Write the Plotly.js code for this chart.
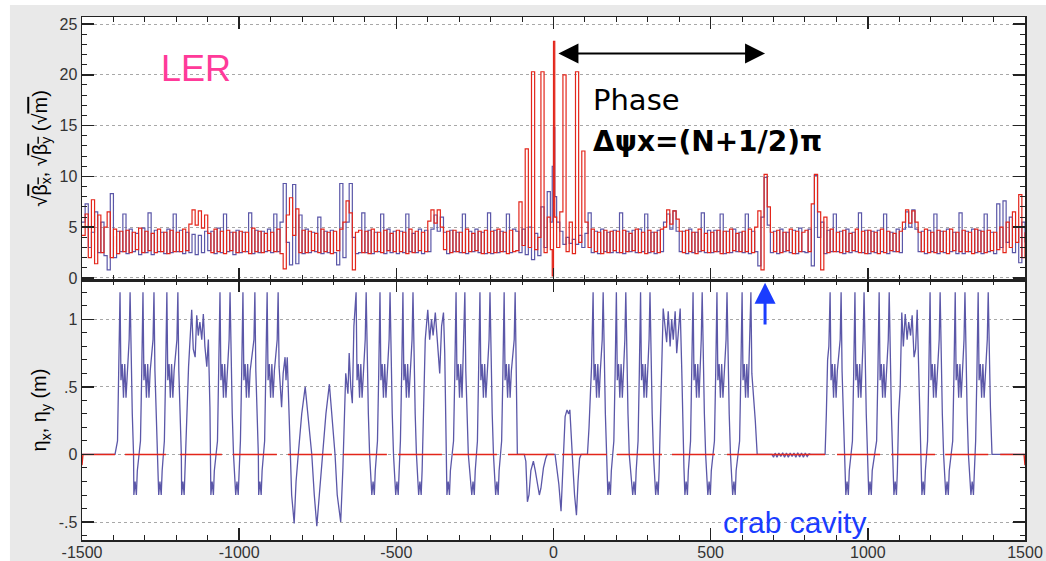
<!DOCTYPE html>
<html><head><meta charset="utf-8">
<script src="https://cdn.plot.ly/plotly-3.0.1.min.js"></script>
<style>html,body{margin:0;padding:0;background:#fff;}#chart{width:1046px;height:561px;}</style>
</head><body><div id="chart"></div>
<script>
// ---- top panel: sqrt(beta) vs s (m) ----
const sBeta = [
-1500,-1490,-1480,-1470,-1460,-1450,-1440,-1430,-1420,-1410,
-1400,-1390,-1380,-1370,-1360,-1350,-1340,-1330,-1320,-1310,
-1300,-1290,-1280,-1270,-1260,-1250,-1240,-1230,-1220,-1210,
-1200,-1190,-1180,-1170,-1160,-1150,-1140,-1130,-1120,-1110,
-1100,-1090,-1080,-1070,-1060,-1050,-1040,-1030,-1020,-1010,
-1000,-990,-980,-970,-960,-950,-940,-930,-920,-910,
-900,-890,-880,-870,-860,-850,-840,-830,-820,-810,
-800,-790,-780,-770,-760,-750,-740,-730,-720,-710,
-700,-690,-680,-670,-660,-650,-640,-630,-620,-610,
-600,-590,-580,-570,-560,-550,-540,-530,-520,-510,
-500,-490,-480,-470,-460,-450,-440,-430,-420,-410,
-400,-390,-380,-370,-360,-350,-340,-330,-320,-310,
-300,-290,-280,-270,-260,-250,-240,-230,-220,-210,
-200,-190,-180,-170,-160,-150,-140,-130,-120,-110,
-100,-90,-80,-70,-60,-50,-40,-30,-20,-10,-4,0,4,10,20,30,40,50,60,70,80,90,
100,110,120,130,140,150,160,170,180,190,
200,210,220,230,240,250,260,270,280,290,
300,310,320,330,340,350,360,370,380,390,
400,410,420,430,440,450,460,470,480,490,
500,510,520,530,540,550,560,570,580,590,
600,610,620,630,640,650,660,670,680,690,
700,710,720,730,740,750,760,770,780,790,
800,810,820,830,840,850,860,870,880,890,
900,910,920,930,940,950,960,970,980,990,
1000,1010,1020,1030,1040,1050,1060,1070,1080,1090,
1100,1110,1120,1130,1140,1150,1160,1170,1180,1190,
1200,1210,1220,1230,1240,1250,1260,1270,1280,1290,
1300,1310,1320,1330,1340,1350,1360,1370,1380,1390,
1400,1410,1420,1430,1440,1450,1460,1470,1480,1490,1500
];
const sqrtBetaX = [
4.2,6.3,2.0,7.7,1.4,6.2,2.5,5.0,6.5,2.0,
4.8,2.4,4.6,2.6,4.7,2.5,4.5,2.8,4.9,2.5,
4.6,2.7,4.4,2.5,4.8,2.6,4.5,2.4,4.7,2.6,
4.5,2.6,4.8,2.7,5.3,6.7,5.2,6.6,4.9,6.2,
4.4,2.5,4.8,2.6,4.6,2.4,4.7,2.7,4.5,2.5,
4.6,2.6,4.5,2.4,4.9,2.6,4.6,2.5,4.4,2.7,
4.5,2.6,4.8,2.4,0.9,6.2,7.9,4.2,6.8,2.5,
4.7,2.5,4.6,2.7,4.4,2.5,4.8,2.6,4.5,2.4,
4.6,2.7,4.8,5.5,7.6,6.4,0.8,4.5,4.7,2.5,
4.6,2.4,4.8,2.6,4.5,2.5,4.7,2.7,4.4,2.6,
4.7,2.6,4.5,2.4,4.8,2.5,4.6,2.7,4.5,2.6,
5.6,6.7,5.4,6.7,5.0,2.8,4.6,2.5,4.7,2.6,
4.5,2.5,4.8,2.6,4.4,2.7,4.6,2.4,4.7,2.5,
4.6,2.5,4.8,2.6,4.5,2.4,4.7,2.6,2.7,7.5,
3.2,12.7,3.0,20.3,2.8,4.0,20.3,2.5,6.0,2.8,0.2,23.3,6.0,3.0,6.5,20.0,2.6,5.5,2.4,20.3,3.5,12.5,
5.5,3.0,4.8,2.6,4.5,2.4,4.7,2.5,4.6,2.7,
4.6,2.5,4.7,2.6,4.4,2.7,4.8,2.5,4.5,2.4,
4.7,2.6,4.5,2.5,4.8,5.0,6.7,5.3,6.6,5.8,
4.6,2.5,4.7,2.6,4.5,2.4,4.8,2.7,4.4,2.5,
4.5,2.6,4.7,2.4,4.6,2.5,4.8,2.7,4.4,2.6,
4.6,2.6,4.8,2.5,5.0,6.6,0.8,10.2,7.0,4.5,
2.6,4.7,2.5,4.5,2.7,4.8,2.4,4.6,2.6,4.5,
4.7,2.6,7.3,10.2,6.5,0.8,6.0,2.5,4.8,2.6,
4.5,2.5,4.7,2.6,4.4,2.7,4.8,2.5,4.6,2.4,
4.7,2.6,4.5,2.4,4.8,2.5,4.6,2.7,4.4,2.6,
4.6,5.5,6.7,5.4,6.6,5.5,4.5,2.6,4.8,2.5,
4.5,2.5,4.7,2.6,4.6,2.4,4.8,2.7,4.5,2.6,
4.7,2.6,4.5,2.4,4.8,2.6,4.6,2.5,4.7,2.7,
4.5,2.8,5.0,2.5,5.5,3.0,6.5,3.5,8.2,2.0,4.5
];
const sqrtBetaY = [
5.5,7.3,3.0,4.5,6.5,2.5,5.5,2.2,0.8,8.3,
2.0,4.6,2.6,6.3,2.4,4.8,2.6,4.4,2.3,4.9,
2.5,6.4,2.3,4.7,2.6,4.5,2.4,4.8,2.5,6.3,
2.6,4.7,2.4,4.5,2.5,4.3,2.3,4.2,2.5,4.6,
2.7,4.6,2.4,4.9,2.5,6.3,2.6,4.5,2.3,4.7,
2.5,4.5,2.6,6.4,2.4,4.7,2.5,4.6,2.6,4.8,
2.5,6.3,2.6,5.5,9.3,3.5,1.3,9.2,1.4,6.2,
2.4,4.8,2.5,4.5,2.6,6.0,2.4,4.6,2.5,4.7,
2.5,1.3,9.3,2.0,5.5,9.3,4.0,2.4,2.5,6.4,
2.5,4.7,2.4,4.5,2.6,6.3,2.4,4.8,2.5,4.6,
2.4,4.6,2.5,6.3,2.6,4.4,2.5,4.8,2.4,4.7,
2.6,4.8,6.2,4.6,6.0,4.5,2.4,4.7,2.6,4.5,
2.5,6.3,2.4,4.6,2.6,4.8,2.5,4.5,2.4,6.4,
2.4,4.7,2.5,4.6,2.6,6.3,2.5,4.8,4.6,2.5,
4.8,2.3,5.0,1.8,4.4,2.2,7.0,3.0,8.5,5.5,11.0,14.8,8.0,5.5,4.6,3.3,4.0,3.4,3.8,3.3,4.2,3.0,
4.4,6.4,2.5,4.6,2.4,4.8,2.6,4.5,2.5,4.7,
2.5,6.4,2.4,4.6,2.6,4.7,2.5,4.8,2.6,6.3,
2.5,4.5,2.4,4.7,2.6,5.5,6.3,4.8,6.6,4.6,
2.6,4.6,2.4,4.8,2.5,4.5,2.6,6.4,2.5,4.7,
2.5,4.7,2.6,6.3,2.4,4.6,2.5,4.8,2.6,4.5,
2.5,6.3,2.4,4.6,2.6,1.2,6.0,9.9,5.2,2.5,
4.6,2.4,4.8,2.6,4.5,2.5,4.7,2.4,4.9,2.6,
2.5,4.8,1.2,10.1,4.0,5.5,2.4,4.7,2.6,6.3,
2.6,4.6,2.4,4.8,2.5,4.5,2.6,6.4,2.5,4.7,
2.4,4.6,2.5,4.7,2.6,6.3,2.4,4.5,2.6,4.8,
2.5,4.8,6.5,5.0,6.7,4.8,2.6,4.6,2.4,4.7,
2.6,6.3,2.4,4.6,2.5,4.8,2.6,4.5,2.4,6.4,
2.4,4.6,2.6,4.8,2.5,4.7,2.4,6.3,2.6,4.5,
2.4,7.3,3.0,7.6,3.5,6.0,2.5,5.0,1.5,5.5,3.5
];

// ---- bottom panel: dispersion [s, eta] ----
const etaXPoints = [
[-1500,0],[-1395,0],
[-1387,0.1],[-1383,0.6],[-1379,1.2],[-1376,0.55],[-1372,0.67],[-1368,0.42],[-1364,0.67],[-1360,0.42],[-1356,0.62],[-1350,0.85],[-1347,1.2],[-1344,0.62],[-1340,0.3],[-1336,0],[-1335,-0.3],[-1331,-0.2],[-1327,-0.3],[-1324,-0.12],
[-1314,0.1],[-1310,0.6],[-1306,1.2],[-1303,0.55],[-1299,0.67],[-1295,0.42],[-1291,0.67],[-1287,0.42],[-1283,0.62],[-1274,0.85],[-1271,1.2],[-1268,0.62],[-1264,0.3],[-1260,0],[-1256,-0.3],[-1252,-0.2],[-1248,-0.3],[-1245,-0.12],
[-1238,0.1],[-1234,0.6],[-1230,1.2],[-1227,0.55],[-1223,0.67],[-1219,0.42],[-1215,0.67],[-1211,0.42],[-1207,0.62],[-1198,0.85],[-1195,1.2],[-1192,0.62],[-1188,0.3],[-1184,0],[-1183,-0.3],[-1179,-0.2],[-1175,-0.3],[-1172,-0.12],
[-1166,0.3],[-1161,0.65],[-1151,1.07],[-1146,0.78],[-1140,0.72],[-1135,1.03],[-1130,0.88],[-1125,0.98],[-1119,0.85],[-1114,1.04],[-1109,0.8],[-1103,0.65],[-1098,0.85],[-1093,0.35],[-1090,-0.3],[-1086,-0.2],[-1082,-0.3],[-1079,-0.12],
[-1069,0.1],[-1065,0.6],[-1061,1.2],[-1058,0.55],[-1054,0.67],[-1050,0.42],[-1046,0.67],[-1042,0.42],[-1038,0.62],[-1032,0.85],[-1029,1.2],[-1026,0.62],[-1022,0.3],[-1018,0],[-1011,-0.3],[-1007,-0.2],[-1003,-0.3],[-1000,-0.12],
[-996,0.1],[-992,0.6],[-988,1.2],[-985,0.55],[-981,0.67],[-977,0.42],[-973,0.67],[-969,0.42],[-965,0.62],[-953,0.85],[-950,1.2],[-947,0.62],[-943,0.3],[-939,0],[-938,-0.3],[-934,-0.2],[-930,-0.3],[-927,-0.12],
[-919,0.1],[-915,0.6],[-911,1.2],[-908,0.55],[-904,0.67],[-900,0.42],[-896,0.67],[-892,0.42],[-888,0.62],[-879,0.85],[-876,1.2],[-873,0.65],[-865,0.35],[-860,0.6],[-854,0.72],[-851,0.55],[-847,0.72],[-844,0.5],
[-838,0],[-833,-0.3],[-825,-0.51],[-819,-0.2],[-812,0],[-801,0.3],[-790,0.5],[-780,0.25],[-769,0],[-761,-0.3],[-753,-0.53],[-745,-0.3],[-734,0],[-724,0.3],[-713,0.52],[-703,0.25],[-695,0],[-688,-0.3],[-677,-0.5],[-670,-0.1],[-666,0.3],[-661,0.6],[-654,0.45],[-650,0.75],[-645,0.5],[-640,0.38],[-635,0.95],
[-628,1.2],[-625,0.55],[-621,0.67],[-617,0.42],[-613,0.67],[-609,0.42],[-605,0.62],[-599,0.85],[-596,1.2],[-593,0.62],[-589,0.3],[-585,0],[-578,-0.3],[-574,-0.2],[-570,-0.3],[-567,-0.12],
[-560,0.1],[-556,0.6],[-552,1.2],[-549,0.55],[-545,0.67],[-541,0.42],[-537,0.67],[-533,0.42],[-529,0.62],[-523,0.85],[-520,1.2],[-517,0.62],[-513,0.3],[-509,0],[-502,-0.3],[-498,-0.2],[-494,-0.3],[-491,-0.12],
[-487,0.1],[-483,0.6],[-479,1.2],[-476,0.55],[-472,0.67],[-468,0.42],[-464,0.67],[-460,0.42],[-456,0.62],[-450,0.85],[-447,1.2],[-444,0.62],[-440,0.3],[-436,0],[-429,-0.3],[-425,-0.2],[-421,-0.3],[-418,-0.12],
[-413,0.3],[-408,0.85],[-400,1.07],[-394,0.85],[-388,1.0],[-383,0.88],[-376,1.05],[-368,0.75],[-362,0.6],[-356,0.95],[-350,1.05],[-346,0.75],[-342,0.3],[-339,-0.3],[-335,-0.2],[-331,-0.3],[-328,-0.12],
[-318,0.1],[-314,0.6],[-310,1.2],[-307,0.55],[-303,0.67],[-299,0.42],[-295,0.67],[-291,0.42],[-285,0.85],[-282,1.2],[-279,0.62],[-275,0.3],[-271,0],[-260,-0.3],[-256,-0.2],[-252,-0.3],[-249,-0.12],
[-242,0.1],[-238,0.6],[-234,1.2],[-231,0.55],[-227,0.67],[-223,0.42],[-219,0.67],[-215,0.42],[-211,0.62],[-205,0.85],[-202,1.2],[-199,0.62],[-195,0.3],[-191,0],[-184,-0.3],[-180,-0.2],[-176,-0.3],[-173,-0.12],
[-165,0.1],[-161,0.6],[-157,1.2],[-154,0.55],[-150,0.67],[-146,0.42],[-142,0.67],[-138,0.42],[-134,0.62],[-125,0.85],[-122,1.2],[-119,0.7],[-117,0.35],[-115,0],
[-93,0],[-88,-0.05],[-83,-0.35],[-78,-0.3],[-72,-0.12],[-64,-0.05],[-58,-0.12],[-52,-0.2],[-45,-0.3],[-40,-0.25],[-32,-0.1],[-25,-0.03],[-20,0],[5,0],[10,-0.1],[17,-0.22],[24,-0.42],[28,-0.2],[32,0.05],[37,0.28],[43,0.33],[48,0.3],[52,0.33],[57,0.15],[62,-0.1],[67,-0.3],[73,-0.45],[78,-0.2],[83,-0.03],[88,0],[108,0],
[113,0.2],[118,0.5],[121,0.65],
[126,1.2],[129,0.55],[133,0.67],[137,0.42],[141,0.67],[145,0.42],[149,0.62],[155,0.85],[158,1.2],[161,0.62],[165,0.3],[169,0],[173,-0.3],[177,-0.2],[181,-0.3],[184,-0.12],
[192,0.1],[196,0.6],[200,1.2],[203,0.55],[207,0.67],[211,0.42],[215,0.67],[219,0.42],[223,0.62],[227,0.85],[230,1.2],[233,0.62],[237,0.3],[241,0],[252,-0.3],[256,-0.2],[260,-0.3],[263,-0.12],
[269,0.1],[273,0.6],[277,1.2],[280,0.55],[284,0.67],[288,0.42],[292,0.67],[296,0.42],[300,0.62],[304,0.85],[307,1.2],[310,0.62],[314,0.3],[318,0],[325,-0.3],[329,-0.2],[333,-0.3],[336,-0.12],
[340,0.2],[344,0.5],[349,1.08],[360,0.83],[365,1.06],[371,0.8],[376,1.0],[381,0.85],[387,1.06],[392,0.75],[403,1.08],[408,0.63],[411,0.2],[415,-0.1],[418,-0.3],[422,-0.2],[426,-0.3],[429,-0.12],
[436,0.1],[440,0.6],[444,1.2],[447,0.55],[451,0.67],[455,0.42],[459,0.67],[463,0.42],[467,0.62],[470,0.85],[473,1.2],[476,0.62],[480,0.3],[484,0],[491,-0.3],[495,-0.2],[499,-0.3],[502,-0.12],
[512,0.1],[516,0.6],[520,1.2],[523,0.55],[527,0.67],[531,0.42],[535,0.67],[539,0.42],[543,0.62],[549,0.85],[552,1.2],[555,0.62],[559,0.3],[563,0],[570,-0.3],[574,-0.2],[578,-0.3],[581,-0.12],
[592,0.1],[596,0.6],[600,1.2],[603,0.55],[607,0.67],[611,0.42],[615,0.67],[619,0.42],[625,0.85],[628,1.2],[631,0.6],[636,0.45],[642,0.25],[648,0],
[695,0],[700,-0.02],[705,0.01],[711,-0.02],[717,0.01],[723,-0.015],[729,0.012],[735,-0.02],[741,0.01],[747,-0.02],[753,0.01],[759,-0.015],[765,0.01],[771,-0.02],[777,0.012],[783,-0.018],[789,0.01],[795,-0.02],[801,0.01],[807,-0.015],[813,0.005],[818,0],[864,0],
[868,0.3],[872,0.7],[876,0.8],
[880,1.2],[883,0.55],[887,0.67],[891,0.42],[895,0.67],[899,0.42],[903,0.62],[912,0.85],[915,1.2],[918,0.62],[922,0.3],[926,0],[930,-0.3],[934,-0.2],[938,-0.3],[941,-0.12],
[951,0.1],[955,0.6],[959,1.2],[962,0.55],[966,0.67],[970,0.42],[974,0.67],[978,0.42],[982,0.62],[985,0.85],[988,1.2],[991,0.62],[995,0.3],[999,0],[1003,-0.3],[1007,-0.2],[1011,-0.3],[1014,-0.12],
[1028,0.1],[1032,0.6],[1036,1.2],[1039,0.55],[1043,0.67],[1047,0.42],[1051,0.67],[1055,0.42],[1059,0.62],[1065,0.85],[1068,1.2],[1071,0.62],[1075,0.3],[1079,0],[1083,-0.3],[1087,-0.2],[1091,-0.3],[1094,-0.12],
[1098,0.3],[1103,0.5],[1108,1.05],[1113,0.8],[1119,1.04],[1125,0.85],[1130,0.98],[1136,0.88],[1141,1.03],[1147,0.72],[1152,0.78],[1157,1.07],[1162,0.6],[1166,0.2],[1169,-0.1],[1172,-0.3],[1176,-0.2],[1180,-0.3],[1183,-0.12],
[1190,0.1],[1194,0.6],[1198,1.2],[1201,0.55],[1205,0.67],[1209,0.42],[1213,0.67],[1217,0.42],[1221,0.62],[1227,0.85],[1230,1.2],[1233,0.62],[1237,0.3],[1241,0],[1248,-0.3],[1252,-0.2],[1256,-0.3],[1259,-0.12],
[1270,0.1],[1274,0.6],[1278,1.2],[1281,0.55],[1285,0.67],[1289,0.42],[1293,0.67],[1297,0.42],[1301,0.62],[1306,0.85],[1309,1.2],[1312,0.62],[1316,0.3],[1320,0],[1328,-0.3],[1332,-0.2],[1336,-0.3],[1339,-0.12],
[1343,0.1],[1347,0.6],[1351,1.2],[1354,0.55],[1358,0.67],[1362,0.42],[1366,0.67],[1370,0.42],[1374,0.62],[1380,0.85],[1383,1.2],[1386,0.8],[1390,0.35],[1395,0],[1500,0]
];
const etaYPoints = [
[-1500,-0.08],[-1497,0],[-1395,0],[-1380,null],[-1363,0],[-1233,0],[-1210,null],[-1188,0],[-1055,0],[-1040,null],
[-1020,0],[-880,0],[-860,null],[-845,0],[-705,0],[-690,null],[-670,0],[-530,0],[-510,null],[-495,0],[-355,0],[-340,null],
[-320,0],[-180,0],[-160,null],[-145,0],[2,0],[15,null],[27,0],[170,0],[185,null],[202,0],[345,0],[360,null],[377,0],[514,0],[530,null],
[552,0],[864,0],[880,null],[902,0],[1039,0],[1055,null],[1074,0],[1214,0],[1230,null],[1246,0],[1383,0],[1400,null],[1421,0],[1497,0],[1500,-0.08]
];

const xTickVals = [-1500,-1000,-500,0,500,1000,1500];
const xTickText = ['-1500','-1000','-500','0','500','1000','1500'];
const topTickVals = [0,5,10,15,20,25];
const topTickText = ['0','5','10','15','20','25'];
const botTickVals = [-0.5,0,0.5,1];
const botTickText = ['-.5','0','.5','1'];

const etaXs = etaXPoints.map(p => p[0]), etaXv = etaXPoints.map(p => p[1]);
const etaYs = etaYPoints.map(p => p[0]), etaYv = etaYPoints.map(p => p[1]);

const BLUE = '#5b57a8', RED = '#e3261b';
const tickFont = {family:'Liberation Sans, Arial, sans-serif', size:16, color:'#333'};
const frame = '#222';

const traces = [
  {x:sBeta, y:sqrtBetaY, xaxis:'x', yaxis:'y', mode:'lines', line:{color:BLUE, width:1.2, shape:'hv'}, hoverinfo:'skip'},
  {x:sBeta, y:sqrtBetaX, xaxis:'x', yaxis:'y', mode:'lines', line:{color:RED, width:1.2, shape:'hv'}, hoverinfo:'skip'},
  {x:etaXs, y:etaXv, xaxis:'x2', yaxis:'y2', mode:'lines', line:{color:BLUE, width:1.3}, hoverinfo:'skip'},
  {x:etaYs, y:etaYv, xaxis:'x2', yaxis:'y2', mode:'lines', line:{color:RED, width:1.4}, connectgaps:false, hoverinfo:'skip'}
];

function xAxis(anchor, labels){
  return {anchor:anchor, domain:[0,1], range:[-1500,1500], tickmode:'array', tickvals:xTickVals, ticktext:xTickText,
    showticklabels:labels, ticks:'inside', ticklen:12, tickwidth:1.5, tickcolor:frame, tickfont:tickFont, ticklabelstandoff:-3,
    minor:{tickmode:'linear', tick0:-1500, dtick:100, ticks:'inside', ticklen:5, tickwidth:1, tickcolor:frame, showgrid:false},
    showline:true, linecolor:frame, linewidth:1.5, mirror:'allticks', showgrid:false, zeroline:false};
}
const gridStyle = {showgrid:true, gridcolor:'#a8a8a8', griddash:'dot', gridwidth:1};

const layout = {
  width:1046, height:561, paper_bgcolor:'#e9e9e9', plot_bgcolor:'#ffffff',
  margin:{l:82, r:21, t:17, b:21, pad:0}, showlegend:false,
  xaxis: Object.assign(xAxis('y', false), {matches:'x2'}),
  xaxis2: xAxis('y2', true),
  yaxis: Object.assign({anchor:'x', domain:[0.4971,1], range:[-0.2,25.69], tickmode:'array', tickvals:topTickVals, ticktext:topTickText,
    ticks:'inside', ticklen:12, tickwidth:1.5, tickcolor:frame, tickfont:tickFont,
    minor:{tickmode:'linear', tick0:0, dtick:1, ticks:'inside', ticklen:5, tickwidth:1, tickcolor:frame, showgrid:false},
    showline:true, linecolor:frame, linewidth:1.5, mirror:'allticks', zeroline:false,
    title:{text:'√<span style="text-decoration:overline">β<sub>x</sub></span>, √<span style="text-decoration:overline">β<sub>y</sub></span> (√<span style="text-decoration:overline">m</span>)',
      font:{family:'Liberation Sans, Arial, sans-serif', size:20, color:'#000'}, standoff:6}}, gridStyle),
  yaxis2: Object.assign({anchor:'x2', domain:[0,0.4971], range:[-0.633,1.291], tickmode:'array', tickvals:botTickVals, ticktext:botTickText,
    ticks:'inside', ticklen:12, tickwidth:1.5, tickcolor:frame, tickfont:tickFont,
    minor:{tickmode:'linear', tick0:0, dtick:0.1, ticks:'inside', ticklen:5, tickwidth:1, tickcolor:frame, showgrid:false},
    showline:true, linecolor:frame, linewidth:1.5, mirror:'allticks', zeroline:false,
    title:{text:'η<sub>x</sub>, η<sub>y</sub> (m)', font:{family:'Liberation Sans, Arial, sans-serif', size:20, color:'#000'}, standoff:6}}, gridStyle),
  shapes:[
    {type:'rect', xref:'paper', yref:'paper', x0:-0.1, x1:-0.0764, y0:-0.06, y1:1.05, fillcolor:'#ffffff', line:{width:0}, layer:'below'},
    {type:'rect', xref:'paper', yref:'paper', x0:-0.1, x1:1.05, y0:1.0229, y1:1.05, fillcolor:'#ffffff', line:{width:0}, layer:'below'}
  ],
  annotations:[
    {xref:'x', yref:'y', x:-1137, y:20.6, text:'LER', showarrow:false, font:{family:'Liberation Sans, Arial, sans-serif', size:36, color:'#ff3a99'}},
    {xref:'x', yref:'y', x:120, y:17.5, xanchor:'left', text:'Phase', showarrow:false, font:{family:'DejaVu Sans, sans-serif', size:29, color:'#000'}},
    {xref:'x', yref:'y', x:120, y:13.4, xanchor:'left', text:'<b>Δψx=(N+1/2)π</b>', showarrow:false, font:{family:'DejaVu Sans, sans-serif', size:28, color:'#000'}},
    {xref:'x', yref:'y', x:673, y:22.1, axref:'x', ayref:'y', ax:11, ay:22.1, text:'', showarrow:true, arrowside:'end+start',
      arrowhead:2, startarrowhead:2, arrowsize:2, startarrowsize:2, arrowwidth:2, arrowcolor:'#000', standoff:0, startstandoff:0},
    {xref:'x2', yref:'y2', x:673, y:1.27, axref:'x2', ayref:'y2', ax:673, ay:0.95, text:'', showarrow:true,
      arrowhead:2, arrowsize:1.4, arrowwidth:3, arrowcolor:'#1a3cff', standoff:0},
    {xref:'x2', yref:'y2', x:768, y:-0.50, text:'crab cavity', showarrow:false, font:{family:'Liberation Sans, Arial, sans-serif', size:30, color:'#1a3cff'}}
  ]
};

Plotly.newPlot('chart', traces, layout, {staticPlot:true, displayModeBar:false});
</script>
</body></html>
